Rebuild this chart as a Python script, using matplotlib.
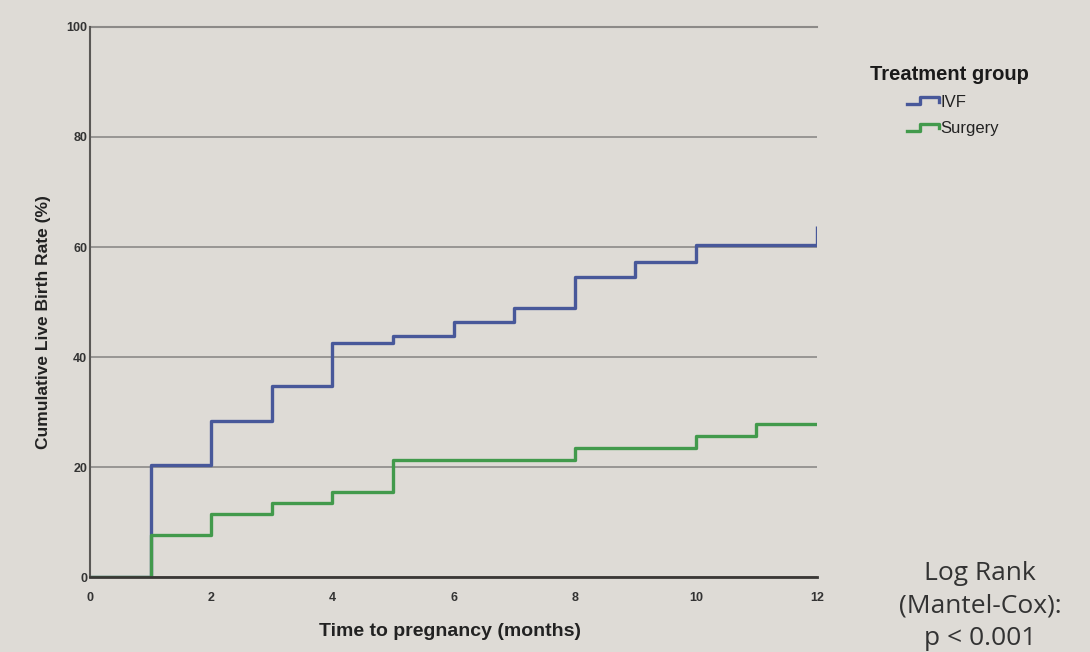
import numpy as np
import matplotlib.pyplot as plt
from matplotlib.lines import Line2D
from matplotlib.legend_handler import HandlerBase

months = list(range(13))
ivf = [0, 20.4, 28.3, 34.8, 42.5, 43.8, 46.4, 49.0, 54.6, 57.3, 60.3, 60.3, 60.3]
surgery = [0, 7.6, 11.5, 13.4, 15.4, 21.3, 21.3, 21.3, 23.4, 23.4, 25.6, 27.9, 27.9]
ivf_censor_x = [12]
ivf_censor_top = [63.8]

y_ticks = [0, 20, 40, 60, 80, 100]
x_ticks = [0, 2, 4, 6, 8, 10, 12]

bg = '#dedbd6'
blue = '#48589a'
green = '#429a4c'


class HandlerStep(HandlerBase):
    # little step-shaped icon, like SPSS legends
    def create_artists(self, legend, orig_handle, xdescent, ydescent,
                       width, height, fontsize, trans):
        x0, w, h = -xdescent, width, height
        xs = [x0, x0 + w * 0.42, x0 + w * 0.42, x0 + w, x0 + w]
        ys = [h * 0.2, h * 0.2, h * 0.8, h * 0.8, h * 0.4]
        ln = Line2D(xs, ys, color=orig_handle.get_color(),
                    lw=orig_handle.get_linewidth(), transform=trans)
        return [ln]


plt.rcParams['font.family'] = ['Liberation Sans', 'DejaVu Sans']

fig = plt.figure(figsize=(10.9, 6.52), dpi=100, facecolor=bg)
ax = fig.add_axes([0.0826, 0.115, 0.667, 0.8436])
ax.set_facecolor(bg)

ax.set_xlim(0, 12)
ax.set_ylim(0, 100)
ax.set_yticks(y_ticks)
ax.set_xticks(x_ticks)
ax.yaxis.grid(True, color='#8c8a88', lw=1.2)
ax.set_axisbelow(True)
ax.tick_params(length=0, labelsize=9, labelcolor='#333333')
for lab in ax.get_xticklabels() + ax.get_yticklabels():
    lab.set_fontweight('bold')
ax.tick_params(axis='x', pad=11)
ax.tick_params(axis='y', pad=2)

for s in ['right', 'top']:
    ax.spines[s].set_visible(False)
ax.spines['left'].set_color('#5a5856')
ax.spines['bottom'].set_color('#3a3836')
ax.spines['left'].set_linewidth(1.5)
ax.spines['bottom'].set_linewidth(2)
ax.axhline(100, color='#8c8a88', lw=1.5, clip_on=False)

l1, = ax.step(months, ivf, where='post', color=blue, lw=2.4, label='IVF')
ax.vlines(ivf_censor_x, ivf[-1], ivf_censor_top, color=blue, lw=2.4)
l2, = ax.step(months, surgery, where='post', color=green, lw=2.4, label='Surgery')

ax.set_ylabel('Cumulative Live Birth Rate (%)', fontsize=12.5, fontweight='bold',
              color='#222222')
ax.yaxis.set_label_coords(-0.054, 0.464)
ax.set_xlabel('Time to pregnancy (months)', fontsize=14, fontweight='bold',
              color='#222222')
ax.xaxis.set_label_coords(0.495, -0.083)

fig.text(0.798, 0.886, 'Treatment group', fontsize=14.5, fontweight='bold',
         color='#1a1a1a', va='center', ha='left')
leg = fig.legend(handles=[l1, l2], loc='upper left', bbox_to_anchor=(0.832, 0.855),
                 frameon=False, fontsize=12, handlelength=1.9,
                 handletextpad=0.1, labelspacing=0.68, borderpad=0,
                 borderaxespad=0, handler_map={Line2D: HandlerStep()})
for t in leg.get_texts():
    t.set_color('#222222')

fig.text(0.899, 0.071, 'Log Rank\n(Mantel-Cox):\np < 0.001', ha='center', va='center',
         fontsize=19, family='Open Sans', color='#333333', linespacing=1.4)

fig.savefig('out.png', dpi=100, facecolor=bg)
